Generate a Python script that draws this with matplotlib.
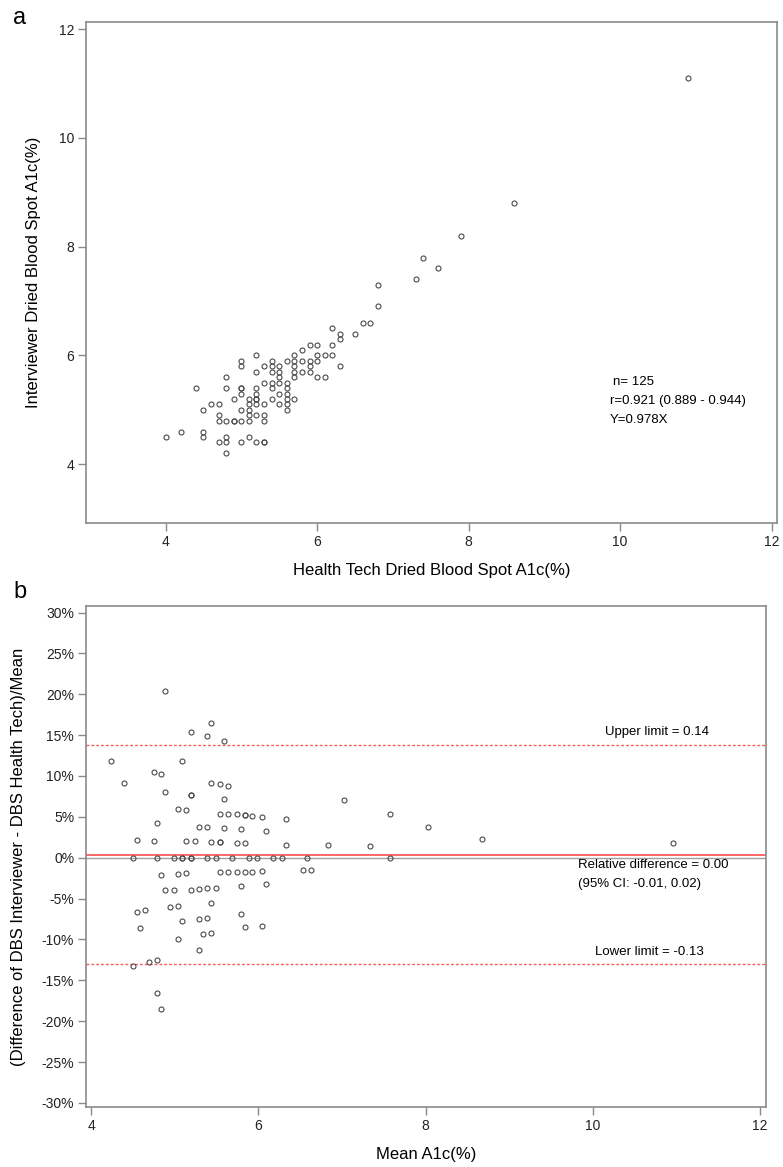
import matplotlib
matplotlib.use("Agg")
import matplotlib.pyplot as plt
from matplotlib.ticker import FuncFormatter

plt.rcParams['font.family'] = ['Liberation Sans', 'DejaVu Sans']

# panel a: health tech DBS (x) vs interviewer DBS (y)
tech_a1c = [4.0, 4.2, 4.4, 4.5, 4.5, 4.5, 4.6, 4.7, 4.7, 4.7, 4.7,
            4.8, 4.8, 4.8, 4.8, 4.8, 4.8, 4.9, 4.9, 4.9,
            5.0, 5.0, 5.0, 5.0, 5.0, 5.0, 5.0, 5.0,
            5.1, 5.1, 5.1, 5.1, 5.1, 5.1,
            5.2, 5.2, 5.2, 5.2, 5.2, 5.2, 5.2, 5.2, 5.2,
            5.3, 5.3, 5.3, 5.3, 5.3, 5.3, 5.3,
            5.4, 5.4, 5.4, 5.4, 5.4, 5.4,
            5.5, 5.5, 5.5, 5.5, 5.5, 5.5,
            5.6, 5.6, 5.6, 5.6, 5.6, 5.6, 5.6,
            5.7, 5.7, 5.7, 5.7, 5.7, 5.7,
            5.8, 5.8, 5.8, 5.9, 5.9, 5.9, 5.9,
            6.0, 6.0, 6.0, 6.0, 6.1, 6.1,
            6.2, 6.2, 6.2, 6.3, 6.3, 6.3,
            6.5, 6.6, 6.7, 6.8, 6.8,
            7.3, 7.4, 7.6, 7.9, 8.6, 10.9]
interviewer_a1c = [4.5, 4.6, 5.4, 5.0, 4.6, 4.5, 5.1, 5.1, 4.9, 4.8, 4.4,
                   5.6, 5.4, 4.8, 4.5, 4.4, 4.2, 5.2, 4.8, 4.8,
                   5.9, 5.8, 5.4, 5.4, 5.3, 5.0, 4.8, 4.4,
                   5.2, 5.1, 5.0, 4.9, 4.8, 4.5,
                   6.0, 5.7, 5.4, 5.3, 5.2, 5.2, 5.1, 4.9, 4.4,
                   5.8, 5.5, 5.1, 4.9, 4.8, 4.4, 4.4,
                   5.9, 5.8, 5.7, 5.5, 5.4, 5.2,
                   5.8, 5.7, 5.6, 5.5, 5.3, 5.1,
                   5.9, 5.5, 5.4, 5.3, 5.2, 5.1, 5.0,
                   6.0, 5.9, 5.8, 5.7, 5.6, 5.2,
                   6.1, 5.9, 5.7, 6.2, 5.9, 5.8, 5.7,
                   6.2, 6.0, 5.9, 5.6, 6.0, 5.6,
                   6.5, 6.2, 6.0, 6.4, 6.3, 5.8,
                   6.4, 6.6, 6.6, 7.3, 6.9,
                   7.4, 7.8, 7.6, 8.2, 8.8, 11.1]

# panel b: mean A1c vs relative difference (%)
mean_a1c = [4.24, 4.39, 4.89, 5.19, 5.39, 5.44, 5.59, 5.09, 4.75, 4.84,
            5.44, 5.54, 5.64, 4.89, 5.19, 5.19, 5.59, 7.03,
            5.04, 5.14, 5.54, 5.64, 5.74, 5.84, 5.84, 5.93, 6.04, 6.33,
            4.79, 5.29, 5.39, 5.59, 5.79, 6.09,
            4.55, 4.75, 5.14, 5.24, 5.44, 5.54, 5.54, 5.74, 5.84, 6.33, 6.83,
            4.50, 4.79, 4.99, 5.09, 5.09, 5.19, 5.19, 5.39, 5.49, 5.69,
            5.89, 5.99, 6.18, 6.28, 6.58,
            4.84, 5.04, 5.14, 5.54, 5.64, 5.74, 5.84, 5.93, 6.04, 6.54, 6.63,
            5.79, 6.09, 4.89, 4.99, 5.19, 5.29, 5.39, 5.49,
            4.94, 5.04, 5.44, 4.55, 4.64, 5.79,
            5.09, 5.29, 5.39, 4.59, 5.84, 6.04, 5.34, 5.44, 5.04, 5.29,
            4.69, 4.79, 4.50, 4.79, 4.84,
            7.34, 7.58, 7.58, 8.03, 8.68, 10.96]
rel_diff = [11.8, 9.1, 20.4, 15.4, 14.9, 16.5, 14.3, 11.8, 10.5, 10.3,
            9.2, 9.0, 8.8, 8.1, 7.7, 7.7, 7.2, 7.1,
            6.0, 5.8, 5.4, 5.3, 5.3, 5.2, 5.2, 5.1, 5.0, 4.7,
            4.2, 3.75, 3.7, 3.6, 3.5, 3.3,
            2.2, 2.1, 2.0, 2.0, 1.9, 1.9, 1.9, 1.8, 1.8, 1.6, 1.5,
            0, 0, 0, 0, 0, 0, 0, 0, 0, 0,
            0, 0, 0, 0, 0,
            -2.1, -2.0, -1.9, -1.75, -1.75, -1.7, -1.7, -1.7, -1.6, -1.55, -1.5,
            -3.4, -3.2, -4.0, -4.0, -3.9, -3.8, -3.75, -3.7,
            -6.0, -5.95, -5.5, -6.6, -6.4, -6.85,
            -7.8, -7.5, -7.4, -8.6, -8.5, -8.3, -9.3, -9.2, -9.9, -11.3,
            -12.75, -12.5, -13.3, -16.6, -18.5,
            1.4, 5.3, 0, 3.75, 2.3, 1.8]

upper_limit = 13.85
lower_limit = -13.0
mean_diff = 0.37

fig = plt.figure(figsize=(7.83, 11.67), dpi=100)
W, H = 783, 1167

spine_col = '#8a8a8a'
pt_col = '#4a4a4a'


def style_axes(ax):
    for s in ax.spines.values():
        s.set_color(spine_col)
        s.set_linewidth(1.2)
    ax.tick_params(direction='out', length=5.5, width=1.0, color=spine_col,
                   labelsize=10, labelcolor='#222222', pad=3)
    ax.tick_params(top=False, right=False)


# ---- panel a ----
ax_a = fig.add_axes([86 / W, 1 - 523 / H, (777 - 86) / W, (523 - 22) / H])
ax_a.plot(tech_a1c, interviewer_a1c, 'o', ms=3.6, mfc='none', mec=pt_col, mew=0.8)
ax_a.set_xlim(2.95, 12.07)
ax_a.set_ylim(2.92, 12.13)
ax_a.set_xticks([4, 6, 8, 10, 12])
ax_a.set_yticks([4, 6, 8, 10, 12])
style_axes(ax_a)
ax_a.set_xlabel('Health Tech Dried Blood Spot A1c(%)', fontsize=12, labelpad=10)
ax_a.set_ylabel('Interviewer Dried Blood Spot A1c(%)', fontsize=12)
ax_a.yaxis.set_label_coords((41 - 86) / 691, 0.5)
ax_a.text(9.9, 5.51, 'n= 125', fontsize=9.5, va='center')
ax_a.text(9.86, 5.16, 'r=0.921 (0.889 - 0.944)', fontsize=9.5, va='center')
ax_a.text(9.86, 4.81, 'Y=0.978X', fontsize=9.5, va='center')
fig.text(20 / W, 1 - 18 / H, 'a', fontsize=17, ha='center', va='center')

# ---- panel b ----
ax_b = fig.add_axes([86 / W, 1 - 1107 / H, (766 - 86) / W, (1107 - 606) / H])
ax_b.axhline(0, color='#a0a0a0', lw=1.0, zorder=1)
ax_b.axhline(mean_diff, color='#ff5a5a', lw=1.3, zorder=1)
ax_b.axhline(upper_limit, color='#ff5a5a', lw=1.0, ls=(0, (2, 1.5)), zorder=1)
ax_b.axhline(lower_limit, color='#ff5a5a', lw=1.0, ls=(0, (2, 1.5)), zorder=1)
ax_b.plot(mean_a1c, rel_diff, 'o', ms=3.6, mfc='none', mec=pt_col, mew=0.8, zorder=2)
ax_b.set_xlim(3.94, 12.07)
ax_b.set_ylim(-30.5, 30.8)
ax_b.set_xticks([4, 6, 8, 10, 12])
ax_b.set_yticks(range(-30, 31, 5))
ax_b.yaxis.set_major_formatter(FuncFormatter(lambda v, p: '%d%%' % v))
style_axes(ax_b)
ax_b.set_xlabel('Mean A1c(%)', fontsize=12, labelpad=10)
ax_b.set_ylabel('(Difference of DBS Interviewer - DBS Health Tech)/Mean', fontsize=12)
ax_b.yaxis.set_label_coords((26 - 86) / 680, 0.5)
ax_b.text(10.14, 15.4, 'Upper limit = 0.14', fontsize=9.5, va='center')
ax_b.text(9.82, -0.86, 'Relative difference = 0.00', fontsize=9.5, va='center')
ax_b.text(9.82, -3.2, '(95% CI: -0.01, 0.02)', fontsize=9.5, va='center')
ax_b.text(10.03, -11.5, 'Lower limit = -0.13', fontsize=9.5, va='center')
fig.text(20 / W, 1 - 592 / H, 'b', fontsize=17, ha='center', va='center')

fig.savefig('out.png', dpi=100)
